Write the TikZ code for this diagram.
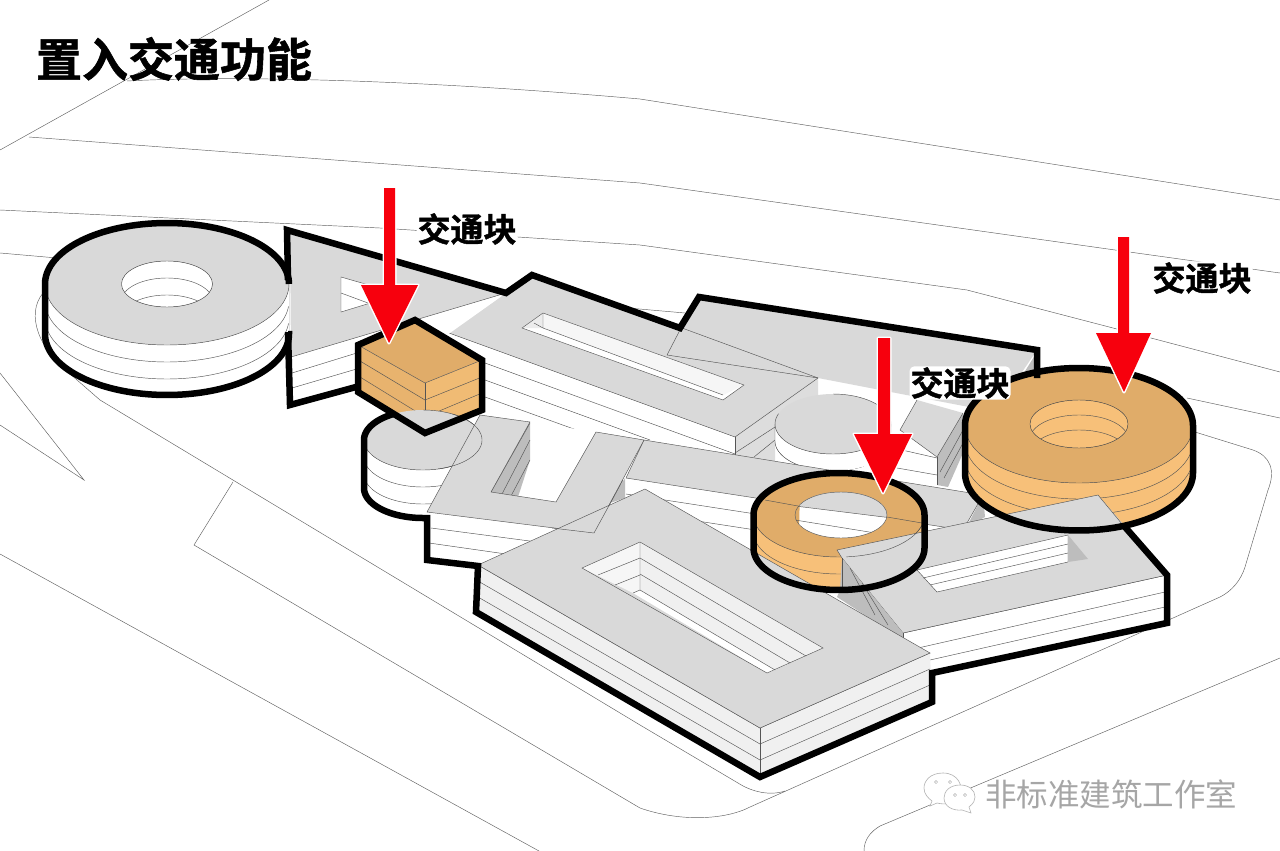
\documentclass[tikz,border=0pt]{standalone}
\usepackage{fontspec}
\newfontfamily\cjk{Noto Sans CJK SC}
\newfontfamily\cjkheavy[FakeBold=1.2]{Noto Sans CJK SC Bold}
\definecolor{topg}{HTML}{D9D9D9}
\definecolor{sideg}{HTML}{F0F0F0}
\definecolor{wallg}{HTML}{BDBDBD}
\definecolor{rimg}{HTML}{CCCCCC}
\definecolor{otop}{HTML}{E0AC69}
\definecolor{oside}{HTML}{F7C079}
\definecolor{oedge}{HTML}{DDA964}
\definecolor{oblockl}{HTML}{E8B36E}
\definecolor{oblockr}{HTML}{F0BB74}
\definecolor{arrowred}{HTML}{F7000D}
\definecolor{thin}{HTML}{555555}
\pgfdeclarehorizontalshading{greydisc}{100bp}{color(0bp)=(rimg); color(18bp)=(white); color(82bp)=(white); color(100bp)=(rimg)}
\pgfdeclarehorizontalshading{orangedisc}{100bp}{color(0bp)=(oedge); color(25bp)=(oside); color(75bp)=(oside); color(100bp)=(oedge)}
% elliptic arcs in picture coordinates (y grows downwards, angle 90 is down)
\newcommand\arcM[6]{plot[domain=#5:#6,samples=72] ({#1+#3*cos(\x)},{#2+#4*sin(\x)})}
\newcommand\arcL[6]{-- plot[domain=#5:#6,samples=72] ({#1+#3*cos(\x)},{#2+#4*sin(\x)})}
\tikzset{
  site/.style={draw=gray!75!black,line width=.45pt},
  edge/.style={draw=thin,line width=.45pt},
  outline/.style={draw=black,line width=6.5pt,line join=miter,miter limit=8},
  topface/.style={fill=topg},
  pointer/.style={fill=arrowred,preaction={draw=white,line width=3pt,line join=round}},
  lbl/.style={font=\cjkheavy\fontsize{33}{35}\selectfont,text=black,fill=white,inner sep=1pt,rounded corners=5pt},
}
\begin{document}
\begin{tikzpicture}[x=1pt,y=-1pt]
\useasboundingbox (0,0) rectangle (1280,851);
\fill[white] (0,0) rectangle (1280,851);
% ---------- site lines
\draw[site] (269,0) -- (0,150);
\draw[site] (127,81) .. controls (220,76) and (400,78) .. (640,99) -- (1280,200);
\draw[site] (29,137) -- (640,183) -- (1115,250) -- (1280,273);
\draw[site] (0,210) -- (380,228) -- (640,245) -- (967,290) -- (1113,328) -- (1280,372);
\draw[site] (0,253) -- (685,313);
\draw[site] (1187,398) -- (1280,418);
\draw[site] (43,293) .. controls (25,315) and (40,350) .. (69,373) -- (100,400) -- (640,725) -- (738,783) .. controls (752,792) and (770,796) .. (785,791);
\draw[site] (194,545) -- (233,482);
\draw[site] (194,545) -- (640,808) .. controls (680,822) and (725,820) .. (750,807) -- (1220,597) .. controls (1232,591) and (1241,580) .. (1245,567) -- (1268,490) .. controls (1276,470) and (1270,456) .. (1253,450) -- (1195,432);
\draw[site] (0,373) -- (84,480) -- (0,425);
\draw[site] (0,554) -- (539,851);
\draw[site] (1280,658) -- (880,826) .. controls (870,832) and (864,840) .. (864,851);
% ---------- back building C
\fill[topface] (680,328) -- (699,297) -- (1037,350) -- (995,412) -- (818,378) -- (667,355) -- cycle;
\fill[wallg] (1037,352) -- (1037,372) -- (1022,376) -- cycle;
% ---------- bar A side layers
\draw[edge] (485,363) -- (735,454);
\draw[edge] (485,380) -- (650,440);
\draw[edge] (485,397) -- (596,437);
% ---------- bar A right face
\fill[sideg!92!black] (735,437) -- (818,378) -- (818,395) -- (775,425) -- (775,465) -- (735,455) -- cycle;
\draw[edge] (735,437) -- (735,455);
\draw[edge] (735,453) -- (775,427);
\draw[edge] (754,457) -- (775,440);
% ---------- bar A top
\fill[topface] (532,275) -- (680,328) -- (818,378) -- (735,437) -- (449,333) -- cycle;
\fill[white] (543,313) -- (744,385) -- (723,400) -- (522,328) -- cycle;
\fill[sideg!60!white] (543,313) -- (744,385) -- (723,395) -- (543,328) -- cycle;
\fill[topg!50!white] (543,313) -- (522,328) -- (543,328) -- cycle;
\draw[edge] (543,313) -- (744,385) -- (723,400) -- (522,328) -- cycle;
\draw[edge] (543,313) -- (543,328) -- (723,395);
\draw[edge] (543,328) -- (534,323);
\draw[edge] (449,333) -- (735,437) -- (818,378);
\draw[edge] (680,330) -- (667,355) -- (818,378);
\draw[edge] (682,328) -- (818,378);
% ---------- back cylinder
\fill[shading=greydisc] \arcM{833}{424}{58}{30}{0}{180} \arcL{833}{441}{58}{30}{180}{0} -- cycle;
\draw[edge] \arcM{833}{441}{58}{30}{90}{180} -- (775,424);
\fill[topface] (833,424) ellipse[x radius=58,y radius=30];
\draw[edge] \arcM{833}{424}{58}{30}{-90}{200};
% ---------- building D
\fill[white] (900,430) -- (937,457) -- (937,485) -- (860,470) -- cycle;
\draw[edge] (880,445) -- (937,458);
\draw[edge] (880,465) -- (937,475);
\fill[topface] (917,400) -- (963,413) -- (937,457) -- (900,430) -- cycle;
\fill[wallg] (963,413) -- (963,453) -- (948,487) -- (937,485) -- (937,457) -- cycle;
\draw[edge] (900,430) -- (917,400);
\draw[edge] (900,430) -- (937,457) -- (963,413);
\draw[edge] (937,457) -- (937,485);
\draw[edge] (963,430) -- (940,472);
\draw[edge] (963,443) -- (944,478);
% ---------- triangle building
\fill[white] (291,357) -- (506,293) -- (356,400) -- (290,405) -- cycle;
\fill[topface] (290,230) -- (506,293) -- (291,357) -- cycle;
\fill[white] (341,277) -- (400,294) -- (341,312) -- cycle;
\draw[edge] (341,277) -- (400,294) -- (341,312) -- cycle;
\draw[edge] (341,293) -- (368,303);
\draw[edge] (291,357) -- (506,293);
\draw[edge] (292,373) -- (360,352);
\draw[edge] (292,388) -- (360,368);
% ---------- left disc
\fill[shading=greydisc] \arcM{167}{284}{122}{61}{0}{180} \arcL{167}{334}{122}{61}{180}{0} -- cycle;
\fill[topface] (167,284) ellipse[x radius=122,y radius=61];
\draw[edge] \arcM{167}{284}{122}{61}{0}{180};
\draw[edge] \arcM{167}{301}{122}{61}{5}{175};
\draw[edge] \arcM{167}{318}{122}{61}{5}{175};
\fill[shading=greydisc] (167,284) ellipse[x radius=45.5,y radius=23];
\begin{scope}
\clip (167,284) ellipse[x radius=45.5,y radius=23];
\draw[edge] \arcM{167}{301}{45.5}{23}{180}{360};
\draw[edge] \arcM{167}{318}{45.5}{23}{180}{360};
\end{scope}
\draw[edge] (167,284) ellipse[x radius=45.5,y radius=23];
% ---------- block
\fill[otop] (358,345) -- (415,320) -- (482,360) -- (425,383) -- cycle;
\fill[oblockl] (358,345) -- (425,383) -- (425,433) -- (358,392) -- cycle;
\fill[oblockr] (425,383) -- (482,360) -- (482,410) -- (425,433) -- cycle;
\draw[edge] (358,345) -- (425,383) -- (482,360);
\draw[edge] (425,383) -- (425,433);
\draw[edge] (360,361) -- (425,400) -- (482,377);
\draw[edge] (360,377) -- (425,417) -- (482,393);
% ---------- small cylinder
\fill[shading=greydisc] \arcM{423}{440}{59}{30}{0}{180} \arcL{423}{488}{59}{30}{180}{0} -- cycle;
\fill[topface] (423,440) ellipse[x radius=59,y radius=30];
\draw[edge] \arcM{423}{457}{59}{30}{60}{178};
\draw[edge] \arcM{423}{474}{59}{30}{60}{178};
\draw[edge] \arcM{423}{440}{59}{30}{-90}{180};
% ---------- wing E
\fill[white] (626,478) -- (963,530) -- (963,562) -- (626,510) -- cycle;
\draw[edge] (626,494) -- (963,546);
\draw[edge] (626,510) -- (963,562);
\fill[wallg] (983,495) -- (985,517) -- (966,528) -- cycle;
\fill[topface] (644,440) -- (983,495) -- (963,530) -- (626,478) -- cycle;
\draw[edge] (644,440) -- (983,495) -- (963,530) -- (626,478) -- cycle;
% ---------- U building
\fill[white] (427,512) -- (594,533) -- (478,566) -- (427,560) -- cycle;
\draw[edge] (431,528) -- (560,545);
\draw[edge] (429,543) -- (520,556);
\fill[white] (530,422) -- (596,432) -- (556,502) -- (491,492) -- cycle;
\fill[wallg] (530,423) -- (530,460) -- (518,497) -- (491,492) -- cycle;
\draw[edge] (530,423) -- (491,492);
\draw[edge] (530,440) -- (502,494);
\draw[edge] (530,460) -- (511,496);
\fill[wallg] (625,478) -- (625,498) -- (610,503) -- cycle;
\fill[topface] (480,415) -- (530,422) -- (491,492) -- (556,502) -- (596,432) -- (644,440) -- (594,533) -- (427,512) -- cycle;
\draw[edge] (480,415) -- (530,422) -- (491,492) -- (556,502) -- (596,432) -- (644,440) -- (594,533) -- (427,512) -- cycle;
\draw[edge] \arcM{423}{440}{59}{30}{-60}{75};
% ---------- orange discs (bodies and tops)
\fill[shading=orangedisc] \arcM{1079}{425.5}{114}{57.5}{0}{180} \arcL{1079}{473}{114}{57.5}{180}{0} -- cycle;
\fill[otop] (1079,425.5) ellipse[x radius=114,y radius=57.5];
\draw[edge] \arcM{1079}{425.5}{114}{57.5}{0}{180};
\draw[edge] \arcM{1079}{441.5}{114}{57.5}{5}{175};
\draw[edge] \arcM{1079}{457.5}{114}{57.5}{5}{175};
\fill[shading=orangedisc] (1079,424) ellipse[x radius=49,y radius=24];
\begin{scope}
\clip (1079,424) ellipse[x radius=49,y radius=24];
\draw[edge] \arcM{1079}{439}{49}{24}{180}{360};
\draw[edge] \arcM{1079}{454}{49}{24}{180}{360};
\fill[white] (1079,474) ellipse[x radius=49,y radius=24];
\end{scope}
\draw[edge] (1079,424) ellipse[x radius=49,y radius=24];
\fill[shading=orangedisc] \arcM{839}{515}{85.5}{42}{0}{180} \arcL{839}{548}{85.5}{42}{180}{0} -- cycle;
\fill[otop] (839,515) ellipse[x radius=85.5,y radius=42];
\draw[edge] \arcM{839}{515}{85.5}{42}{0}{180};
\draw[edge] \arcM{839}{532}{85.5}{42}{40}{175};
\fill[white] (841,515) ellipse[x radius=46,y radius=23];
\begin{scope}
\clip (841,515) ellipse[x radius=46,y radius=23];
\fill[topface] (780,504) -- (900,519) -- (900,480) -- (780,480) -- cycle;
\fill[oedge] (795,490) -- (800,490) -- (799,530) -- (795,530) -- cycle;
\draw[edge] (795,506) -- (900,519);
\draw[edge] (795,520) -- (900,537);
\end{scope}
\draw[edge] (841,515) ellipse[x radius=46,y radius=23];
\draw[edge] (765,500) -- (798,506);
\draw[edge] (887,517) -- (922,523);
% ---------- building F
\fill[white] (903,633) -- (1167,575) -- (1167,622) -- (932,673) -- (932,660) -- cycle;
\draw[edge] (903,633) -- (1167,575);
\draw[edge] (918,648) -- (1165,592);
\draw[edge] (930,660) -- (1165,607);
\fill[topface] (1098,495) -- (1167,575) -- (903,633) -- (842,558) -- (837,550) -- cycle;
\fill[white] (917,570) -- (1068,535) -- (1068,562) -- (937,592) -- cycle;
\draw[edge] (917,570) -- (1068,535) -- (1068,562) -- (937,592) -- cycle;
\draw[edge] (923,578) -- (1068,544);
\draw[edge] (930,585) -- (1068,553);
\fill[wallg] (1068,535) -- (1088,559) -- (1068,562) -- cycle;
\draw[edge] (1098,495) -- (837,550) -- (842,558) -- (903,633) -- (1167,575);
\draw[edge] (1098,495) -- (1122,524);
\draw[edge] \arcM{839}{515}{85.5}{42}{15}{85};
% ---------- wall between F and G
\fill[wallg] (842,558) -- (903,633) -- (903,640) -- (837,597) -- (840,590) -- cycle;
\draw[edge] (842,558) -- (842,590);
\draw[edge] (850,568) -- (875,615);
\draw[edge] (862,583) -- (888,625);
\draw[edge] (903,633) -- (903,640);
% ---------- big building G
\fill[sideg] (478,565) -- (760,728) -- (760,777) -- (476,612) -- cycle;
\fill[sideg] (760,728) -- (930,653) -- (932,702) -- (760,777) -- cycle;
\draw[edge] (478,565) -- (760,728) -- (930,653);
\draw[edge] (760,728) -- (760,777);
\draw[edge] (478,581) -- (760,744) -- (930,669);
\draw[edge] (478,597) -- (760,760) -- (930,685);
\fill[topface] (645,489) -- (930,653) -- (760,728) -- (478,565) -- cycle;
\draw[edge] (645,489) -- (930,653) -- (760,728) -- (478,565) -- cycle;
\fill[sideg] (640,542) -- (823,648) -- (775,670) -- (640,590) -- cycle;
\fill[sideg!60!white] (640,542) -- (582,568) -- (633,593) -- (640,590) -- cycle;
\fill[white] (640,590) -- (775,670) -- (767,673) -- (633,593) -- cycle;
\draw[edge] (640,542) -- (823,648) -- (767,673) -- (582,568) -- cycle;
\draw[edge] (640,542) -- (640,590) -- (775,670);
\draw[edge] (640,558) -- (806,656);
\draw[edge] (640,574) -- (790,663);
\draw[edge] (640,558) -- (598,575);
\draw[edge] (640,575) -- (615,585);
\draw[edge] (640,590) -- (633,593);
% edges of the U building seen across G
\draw[edge] (552,528) -- (594,533) -- (623,480);
% ---------- heavy outlines
\draw[outline] (356,387) -- (290,405) -- (288,332);
\draw[outline] (288,280) -- (287,230) -- (506,293) -- (532,275) -- (680,328) -- (699,297) -- (1037,350) -- (1037,378);
\draw[outline] (288,334) \arcL{167}{334}{122}{61}{0}{180} -- (45,284) \arcL{167}{284}{122}{61}{180}{360};
\draw[outline] (358,345) -- (415,320) -- (482,360) -- (482,410) -- (425,433) -- (358,392) -- cycle;
\draw[outline] \arcM{423}{440}{59}{30}{240}{180} -- (364,488) \arcL{423}{488}{59}{30}{180}{90} -- (427,518) -- (427,560) -- (478,566) -- (476,612) -- (760,777) -- (932,702) -- (932,673) -- (1167,623) -- (1167,575) -- (1125,527);
\draw[outline] \arcM{839}{515}{85.5}{42}{180}{360} -- (924.5,548) \arcL{839}{548}{85.5}{42}{0}{180} -- cycle;
\draw[outline] \arcM{1079}{425.5}{114}{57.5}{180}{360} -- (1193,473) \arcL{1079}{473}{114}{57.5}{0}{180} -- cycle;
% ---------- arrows
\path[pointer] (384,188) -- (395,188) -- (395,285) -- (418,285) -- (389,343) -- (361,285) -- (384,285) -- cycle;
\path[pointer] (878,338) -- (890,338) -- (890,434) -- (912,434) -- (883,493) -- (854,434) -- (878,434) -- cycle;
\path[pointer] (1118,237) -- (1129,237) -- (1129,333) -- (1151,333) -- (1124,392) -- (1096,333) -- (1118,333) -- cycle;
% ---------- texts
\node[font=\cjkheavy\fontsize{46}{48}\selectfont] (title) at (174,59) {置入交通功能};
\node[lbl] (label1) at (467,229) {交通块};
\node[lbl] (label2) at (960,383) {交通块};
\node[lbl] (label3) at (1202,278) {交通块};
% ---------- watermark
\draw[gray!60,fill=white,line width=.6pt] (943,773) .. controls (930,773) and (924,781) .. (924,788) .. controls (924,794) and (928,798) .. (932,801) -- (930,806) -- (937,803) .. controls (945,805) and (955,804) .. (960,797) .. controls (964,786) and (958,773) .. (943,773) -- cycle;
\draw[gray!60,fill=white,line width=.6pt] (960,785) .. controls (950,785) and (944,791) .. (944,798) .. controls (944,806) and (952,811) .. (962,810) -- (971,813) -- (969,807) .. controls (974,803) and (975,800) .. (975,797) .. controls (975,790) and (969,785) .. (960,785) -- cycle;
\foreach \dx/\dy in {936/782,950/782,955/795,965/795}{\draw[gray!60,line width=.5pt] (\dx,\dy) circle[radius=1.6];}
\node[font=\cjk\fontsize{31.5}{33}\selectfont,text=gray!70] (mark) at (1111,794) {非标准建筑工作室};
\end{tikzpicture}
\end{document}
